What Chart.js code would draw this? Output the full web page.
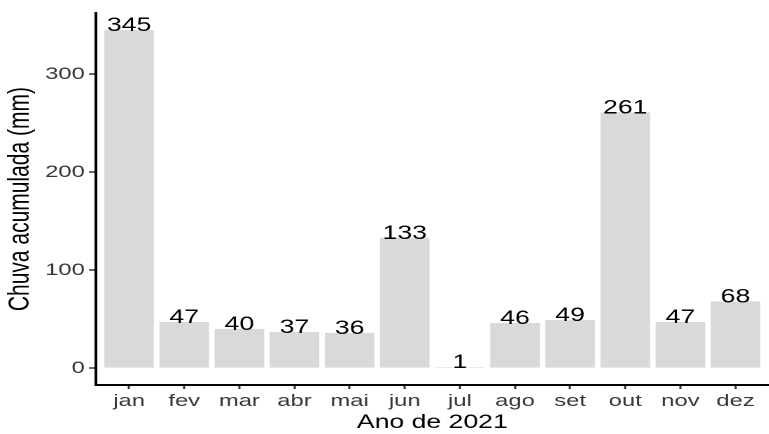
<!DOCTYPE html>
<html>
<head>
<meta charset="utf-8">
<script src="https://cdn.jsdelivr.net/npm/chart.js@4.4.1/dist/chart.umd.min.js"></script>
<style>
  html, body { margin: 0; padding: 0; background: #fff; overflow: hidden; }
  #wrap { width: 549px; height: 434px; transform: scaleX(1.4); transform-origin: 0 0; }
</style>
</head>
<body>
<div id="wrap"><canvas id="chart" width="549" height="434"></canvas></div>
<script>
// monthly rainfall, 2021
const months = ["jan", "fev", "mar", "abr", "mai", "jun", "jul", "ago", "set", "out", "nov", "dez"];
const rainMm = [345, 47, 40, 37, 36, 133, 1, 46, 49, 261, 47, 68];
const yTicks = [0, 100, 200, 300];

const STRETCH = 1.4;
const FONT = "'Liberation Sans', Arial, sans-serif";

// writes the value above each bar
const barLabels = {
    id: "barLabels",
    afterDatasetsDraw(chart) {
        const ctx = chart.ctx;
        const meta = chart.getDatasetMeta(0);
        ctx.save();
        ctx.font = "19px " + FONT;
        ctx.fillStyle = "#000";
        ctx.textAlign = "center";
        ctx.textBaseline = "alphabetic";
        meta.data.forEach((bar, i) => {
            ctx.fillText(String(rainMm[i]), bar.x, bar.y + 1);
        });
        ctx.restore();
    },
};

new Chart(document.getElementById("chart"), {
    type: "bar",
    data: {
        datasets: [{
            data: rainMm.map((v, i) => ({ x: i + 1, y: v })),
            backgroundColor: "#D9D9D9",
            barPercentage: 0.9,
            categoryPercentage: 1.0,
        }],
    },
    options: {
        responsive: false,
        animation: false,
        devicePixelRatio: 2,
        layout: { padding: { top: 13, right: 0, bottom: 0, left: 0 } },
        plugins: {
            legend: { display: false },
            tooltip: { enabled: false },
        },
        scales: {
            x: {
                type: "linear",
                offset: false,
                min: 0.4,
                max: 12.6,
                afterBuildTicks: (s) => { s.ticks = months.map((m, i) => ({ value: i + 1 })); },
                afterFit: (s) => { s.height = 49; },
                ticks: {
                    callback: (v) => months[v - 1],
                    color: "#383838",
                    font: { family: FONT, size: 17 },
                    padding: 2,
                    maxRotation: 0,
                    autoSkip: false,
                },
                grid: { offset: false, drawOnChartArea: false, drawTicks: true, tickLength: 4, tickColor: "#333", tickWidth: 1.5 },
                border: { display: true, color: "#000", width: 2 },
                title: {
                    display: true,
                    text: "Ano de 2021",
                    color: "#000",
                    font: { family: FONT, size: 19 },
                    padding: { top: 0, bottom: 0 },
                },
            },
            y: {
                min: -17.25,
                max: 362.25,
                afterBuildTicks: (s) => { s.ticks = yTicks.map((v) => ({ value: v })); },
                afterFit: (s) => { s.width = 96 / STRETCH; },
                ticks: {
                    color: "#383838",
                    font: { family: FONT, size: 17 },
                    padding: 3,
                },
                grid: { drawOnChartArea: false, drawTicks: true, tickLength: 5, tickColor: "#333", tickWidth: 1.5 },
                border: { display: true, color: "#000", width: 2 },
                title: {
                    display: true,
                    text: "Chuva acumulada (mm)",
                    color: "#000",
                    font: { family: FONT, size: 21 },
                    padding: { top: 2, bottom: 0 },
                },
            },
        },
    },
    plugins: [barLabels],
});
</script>
</body>
</html>
